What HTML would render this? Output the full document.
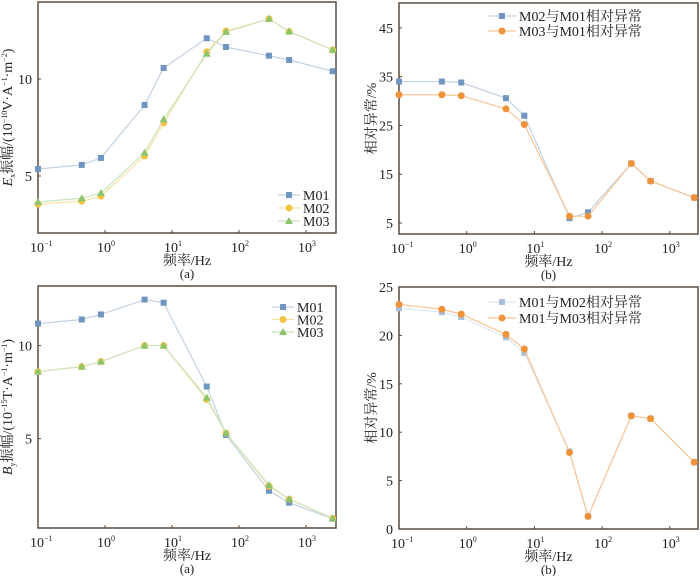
<!DOCTYPE html>
<html><head><meta charset="utf-8"><style>
body{margin:0;background:#fff;}
svg{display:block;font-family:"Liberation Serif","Noto Serif CJK SC",serif;}
</style></head><body>
<svg id="c" width="700" height="576" viewBox="0 0 700 576" xmlns="http://www.w3.org/2000/svg"></svg>
<script>
const freqs=[0.1,0.45,0.87,3.9,7.5,33,64,280,560,2500];
const freqsR=[0.1,0.43,0.83,3.8,7.1,33,62,270,520,2300];
const exM01=[5.36,5.57,5.93,8.66,10.57,12.1,11.65,11.2,10.98,10.4];
const exM02=[3.55,3.7,3.96,6.03,7.73,11.4,12.47,13.1,12.45,11.5];
const exM03=[3.66,3.85,4.12,6.2,7.92,11.3,12.43,13.1,12.45,11.5];
const byM01=[11.18,11.4,11.67,12.47,12.3,7.8,5.2,2.2,1.56,0.7];
const byM02=[8.6,8.87,9.14,10,10,7.1,5.3,2.45,1.75,0.72];
const byM03=[8.6,8.87,9.14,10,10,7.2,5.3,2.5,1.75,0.72];
const relB1=[34,34,33.8,30.6,27,6.0,7.2,17.2,13.6,10.2];
const relB2=[31.3,31.3,31.1,28.4,25.2,6.4,6.4,17.2,13.6,10.2];
const relD1=[22.8,22.4,21.9,19.8,18.2,8.0,1.3,11.7,11.4,6.9];
const relD2=[23.2,22.7,22.2,20.1,18.6,7.9,1.3,11.7,11.4,6.9];
const ticksA=[5,10];const ticksB=[5,15,25,35,45];const ticksD=[0,5,10,15,20,25];
const xExp=[-1,0,1,2,3];

const NS="http://www.w3.org/2000/svg";
const svg=document.getElementById('c');
function mk(tag,at,parent){const e=document.createElementNS(NS,tag);for(const k in at)e.setAttribute(k,at[k]);(parent||svg).appendChild(e);return e;}
const BLUE={m:'#6f95c0',l:'#c3d2e4'},YEL={m:'#f5c342',l:'#f8e2a6'},GRN={m:'#8cc36b',l:'#cbe4bb'},ORG={m:'#f0923a',l:'#f7c596'};

function marker(g,type,x,y,c){
  let e;
  if(type==='s')e=mk('rect',{x:x-3,y:y-3,width:6,height:6,fill:c},g);
  else if(type==='c')e=mk('circle',{cx:x,cy:y,r:3.5,fill:c},g);
  else e=mk('polygon',{points:`${x},${y-4} ${x-4},${y+3} ${x+4},${y+3}`,fill:c},g);
  return e;
}

function panel(p){
  const g=mk('g',{});
  
  
  const X=f=>p.x0+(Math.log10(f)+1)*p.dec;
  const Y=v=>p.y1-(v-p.ymin)/(p.ymax-p.ymin)*(p.y1-p.y0);
  const fr=mk('rect',{x:p.x0,y:p.y0,width:p.x1-p.x0,height:p.y1-p.y0,fill:'none',stroke:'#5b4b3e','stroke-width':1.5},g);
  
  xExp.forEach(e=>{const x=p.x0+(e+1)*p.dec;
    mk('line',{x1:x,x2:x,y1:p.y1,y2:p.y1-3,stroke:'#5b4b3e'},g);
    const t=mk('text',{x:x-8,y:p.y1+19,'font-size':14,fill:'#222'},g);
    
    t.textContent='10';const s=mk('tspan',{'font-size':8,dy:-6},t);s.textContent=e<0?'−1':String(e);
  });
  p.ticks.forEach(v=>{const y=Y(v);
    mk('line',{x1:p.x0,x2:p.x0+3,y1:y,y2:y,stroke:'#5b4b3e'},g);
    const t=mk('text',{x:p.x0-6,y:y+5,'font-size':14,fill:'#222','text-anchor':'end'},g);
    
    t.textContent=v;
  });
  const cx=(p.x0+p.x1)/2;
  const xt=mk('text',{x:cx,y:p.y1+32,'font-size':14,fill:'#222','text-anchor':'middle'},g);
  xt.textContent='频率/Hz';
  const cap=mk('text',{x:cx,y:p.y1+45,'font-size':13,fill:'#222','text-anchor':'middle'},g);
  cap.textContent=p.cap;
  const yt=mk('text',{transform:`translate(${p.ylx},${(p.y0+p.y1)/2}) rotate(-90)`,'font-size':14,fill:'#222','text-anchor':'middle'},g);
  
  p.ylab(yt);
  p.series.forEach((s,si)=>{
    const sg=mk('g',{},g);
    
    const pts=s.vals.map((v,i)=>X(p.f[i])+','+Y(v)).join(' ');
    mk('polyline',{points:pts,fill:'none',stroke:s.c.l,'stroke-width':1.2},sg);
    s.vals.forEach((v,i)=>{const m=marker(sg,s.mk,X(p.f[i]),Y(v),s.c.m);
      });
    const L=p.leg,ly=L.y+si*L.dy;
    const lg=mk('g',{},g);
    mk('line',{x1:L.x,x2:L.x+L.w,y1:ly,y2:ly,stroke:s.c.l,'stroke-width':1.2},lg);
    marker(lg,s.mk,L.x+L.w/2,ly,s.c.m);
    const lt=mk('text',{x:L.x+L.w+3,y:ly+5,'font-size':14,fill:'#222'},lg);lt.textContent=s.label;
  });
}
function sup(t,txt){const s=mk('tspan',{'font-size':8,dy:-5},t);s.textContent=txt;const b=mk('tspan',{dy:5},t);return b;}
panel({name:'panel-ex-amplitude',x0:38,x1:336,y0:2,y1:233,dec:67,ymin:2.06,ymax:13.97,ticks:ticksA,cap:'(a)',ylx:12,f:freqs,
 ylab:t=>{const a=mk('tspan',{'font-style':'italic'},t);a.textContent='E';const b=mk('tspan',{'font-size':8,dy:3},t);b.textContent='x';
  const c=mk('tspan',{dy:-3},t);c.textContent='振幅/(10';let d=sup(t,'−10');d.textContent='V·A';d=sup(t,'−1');d.textContent='·m';d=sup(t,'−2');d.textContent=')';},
 leg:{x:278,y:195,dy:13,w:22},
 series:[{key:'m01',label:'M01',vals:exM01,c:BLUE,mk:'s'},{key:'m02',label:'M02',vals:exM02,c:YEL,mk:'c'},{key:'m03',label:'M03',vals:exM03,c:GRN,mk:'t'}]});
panel({name:'panel-by-amplitude',x0:38,x1:336,y0:286,y1:528,dec:67,ymin:0.2,ymax:13.2,ticks:ticksA,cap:'(a)',ylx:12,f:freqs,
 ylab:t=>{const a=mk('tspan',{'font-style':'italic'},t);a.textContent='B';const b=mk('tspan',{'font-size':8,dy:3},t);b.textContent='y';
  const c=mk('tspan',{dy:-3},t);c.textContent='振幅/(10';let d=sup(t,'−15');d.textContent='T·A';d=sup(t,'−1');d.textContent='·m';d=sup(t,'−1');d.textContent=')';},
 leg:{x:272,y:307,dy:12.5,w:22},
 series:[{key:'m01',label:'M01',vals:byM01,c:BLUE,mk:'s'},{key:'m02',label:'M02',vals:byM02,c:YEL,mk:'c'},{key:'m03',label:'M03',vals:byM03,c:GRN,mk:'t'}]});
panel({name:'panel-relative-anomaly-e',x0:399,x1:698,y0:3,y1:234,dec:67.7,ymin:2.75,ymax:50.1,ticks:ticksB,cap:'(b)',ylx:376,f:freqsR,
 ylab:t=>{t.textContent='相对异常/%';},
 leg:{x:488,y:16,dy:15,w:28},
 series:[{key:'m02-m01',label:'M02与M01相对异常',vals:relB1,c:BLUE,mk:'s'},{key:'m03-m01',label:'M03与M01相对异常',vals:relB2,c:ORG,mk:'c'}]});
panel({name:'panel-relative-anomaly-b',x0:399,x1:698,y0:287,y1:529,dec:67.7,ymin:0,ymax:25,ticks:ticksD,cap:'(b)',ylx:376,f:freqsR,
 ylab:t=>{t.textContent='相对异常/%';},
 leg:{x:488,y:302,dy:16,w:28},
 series:[{key:'m01-m02',label:'M01与M02相对异常',vals:relD1,c:{m:'#a8c0dc',l:'#dde6f0'},mk:'s'},{key:'m01-m03',label:'M01与M03相对异常',vals:relD2,c:ORG,mk:'c'}]});
</script>
</body></html>
